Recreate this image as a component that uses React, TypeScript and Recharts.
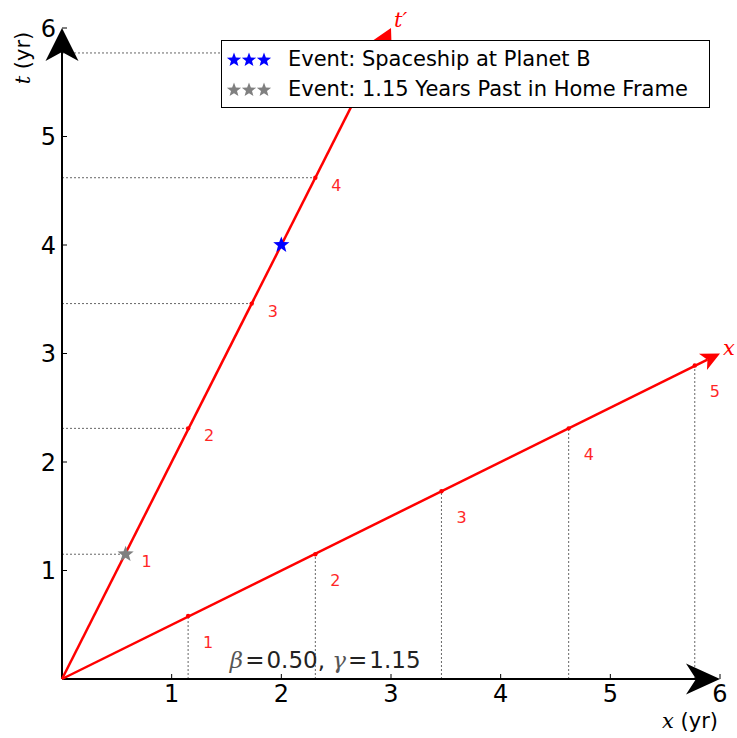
import React from 'react';
import { ScatterChart, XAxis, YAxis, Scatter, ReferenceLine, ReferenceDot, Legend } from 'recharts';

// home frame axes
const xTicks = [1, 2, 3, 4, 5, 6];
const tTicks = [1, 2, 3, 4, 5, 6];
const axisMax = 6;

// moving frame axes end points (t' and x')
const tPrimeEnd = { x: 3, y: 6 };
const xPrimeEnd = { x: 6, y: 3 };

// unit marks along t' and x'
const unitLabels = ['1', '2', '3', '4', '5'];
const tPrimeX = [0.58, 1.15, 1.73, 2.31, 2.89];
const tPrimeT = [1.15, 2.31, 3.46, 4.62, 5.77];
const xPrimeX = [1.15, 2.31, 3.46, 4.62, 5.77];
const xPrimeT = [0.58, 1.15, 1.73, 2.31, 2.89];

// events
const eventNames = ['Event: Spaceship at Planet B', 'Event: 1.15 Years Past in Home Frame'];
const eventX = [2, 0.58];
const eventT = [4, 1.15];
const eventColors = ['#0000ff', '#808080'];

const FONT = '"DejaVu Sans", sans-serif';
const SERIF = '"DejaVu Serif", serif';
const RED = '#ff0000';

const tPrimeMarks = unitLabels.map((label, i) => ({ x: tPrimeX[i], y: tPrimeT[i], label }));
const xPrimeMarks = unitLabels.map((label, i) => ({ x: xPrimeX[i], y: xPrimeT[i], label }));
const events = eventNames.map((name, i) => ({ name, x: eventX[i], y: eventT[i], color: eventColors[i] }));

const starPath = (cx: number, cy: number, R: number) => {
  const r = R * 0.42;
  let d = '';
  for (let i = 0; i < 10; i++) {
    const rad = i % 2 === 0 ? R : r;
    const a = -Math.PI / 2 + (i * Math.PI) / 5;
    d += (i === 0 ? 'M' : 'L') + (cx + rad * Math.cos(a)).toFixed(2) + ',' + (cy + rad * Math.sin(a)).toFixed(2);
  }
  return d + 'Z';
};

const arrowShape = (color: string, lw: number, len: number, half: number, notch: number) => (props: any) => {
  const { x1, y1, x2, y2 } = props;
  const dx = x2 - x1;
  const dy = y2 - y1;
  const L = Math.hypot(dx, dy) || 1;
  const ux = dx / L, uy = dy / L, nx = -uy, ny = ux;
  const bx = x2 - ux * len, by = y2 - uy * len;
  const mx = bx + ux * notch, my = by + uy * notch;
  return (
    <g>
      <line x1={x1} y1={y1} x2={mx} y2={my} stroke={color} strokeWidth={lw} />
      <path
        d={`M${x2},${y2}L${bx + nx * half},${by + ny * half}L${mx},${my}L${bx - nx * half},${by - ny * half}Z`}
        fill={color}
      />
    </g>
  );
};

const XTick = (props: any) => {
  const { x, y, payload } = props;
  return (
    <g>
      <line x1={x} x2={x} y1={y} y2={y - 5} stroke="#000" strokeWidth={1} />
      <text x={x} y={y + 22.5} textAnchor="middle" fontSize={24} fontFamily={FONT} fill="#000">
        {payload.value}
      </text>
    </g>
  );
};

const YTick = (props: any) => {
  const { x, y, payload } = props;
  return (
    <g>
      <line x1={x} x2={x + 5} y1={y} y2={y} stroke="#000" strokeWidth={1} />
      <text x={x - 6} y={y + 8.5} textAnchor="end" fontSize={24} fontFamily={FONT} fill="#000">
        {payload.value}
      </text>
    </g>
  );
};

const markShape = (dx: number, dy: number) => (props: any) => {
  const { cx, cy, payload } = props;
  return (
    <g>
      <circle cx={cx} cy={cy} r={2.2} fill={RED} />
      <text x={cx + dx} y={cy + dy} fontSize={16} fontFamily={FONT} fill={RED} opacity={0.85}>
        {payload.label}
      </text>
    </g>
  );
};

const StarShape = (props: any) => {
  const { cx, cy, payload } = props;
  return <path d={starPath(cx, cy, 8.5)} fill={payload.color} />;
};

const renderLegend = () => (
  <div
    style={{
      border: '1px solid #000',
      background: '#fff',
      width: 487,
      height: 66,
      boxSizing: 'content-box',
      fontFamily: FONT,
      fontSize: 21,
      color: '#000',
    }}
  >
    {events.map((e, i) => (
      <div key={e.name} style={{ display: 'flex', alignItems: 'center', height: 30, marginTop: i === 0 ? 3 : 0 }}>
        <svg width={60} height={30} style={{ flex: 'none' }}>
          {[12, 27, 42].map((sx) => (
            <path key={sx} d={starPath(sx, 16, 7.5)} fill={e.color} />
          ))}
        </svg>
        <span style={{ marginLeft: 6, whiteSpace: 'nowrap' }}>{e.name}</span>
      </div>
    ))}
  </div>
);

export default function App() {
  return (
    <div style={{ position: 'absolute', left: 0, top: 0, width: 737, height: 738, background: '#fff' }}>
      <ScatterChart width={737} height={738} margin={{ top: 28, right: 17, bottom: 0, left: 0 }}>
        <XAxis
          type="number"
          dataKey="x"
          domain={[0, axisMax]}
          ticks={xTicks}
          allowDataOverflow
          axisLine={false}
          tickLine={false}
          tickSize={0}
          tickMargin={0}
          height={59}
          tick={<XTick />}
          label={{
            content: (p: any) => {
              const vb = p.viewBox;
              return (
                <text x={vb.x + vb.width - 2} y={vb.y + 49} textAnchor="end" fontSize={21} fontFamily={FONT} fill="#000">
                  <tspan fontFamily={SERIF} fontStyle="italic">x</tspan> (yr)
                </text>
              );
            },
          }}
        />
        <YAxis
          type="number"
          dataKey="y"
          domain={[0, axisMax]}
          ticks={tTicks}
          allowDataOverflow
          axisLine={false}
          tickLine={false}
          tickSize={0}
          tickMargin={0}
          width={62}
          tick={<YTick />}
          label={{
            content: (p: any) => {
              const vb = p.viewBox;
              const lx = vb.x + 30;
              const ly = vb.y + 30;
              return (
                <text
                  x={lx}
                  y={ly}
                  transform={`rotate(-90 ${lx} ${ly})`}
                  textAnchor="middle"
                  fontSize={21}
                  fontFamily={FONT}
                  fill="#000"
                >
                  <tspan fontFamily={SERIF} fontStyle="italic">t</tspan> (yr)
                </text>
              );
            },
          }}
        />

        {/* dotted projections */}
        {tPrimeMarks.map((m) => (
          <ReferenceLine
            key={'h' + m.label}
            segment={[{ x: 0, y: m.y }, { x: m.x, y: m.y }]}
            stroke="#666"
            strokeWidth={1}
            strokeDasharray="2 2"
            ifOverflow="visible"
          />
        ))}
        {xPrimeMarks.map((m) => (
          <ReferenceLine
            key={'v' + m.label}
            segment={[{ x: m.x, y: 0 }, { x: m.x, y: m.y }]}
            stroke="#666"
            strokeWidth={1}
            strokeDasharray="2 2"
            ifOverflow="visible"
          />
        ))}

        {/* home axes */}
        <ReferenceLine segment={[{ x: 0, y: 0 }, { x: axisMax, y: 0 }]} ifOverflow="visible" shape={arrowShape('#000', 2, 34, 15.5, 10)} />
        <ReferenceLine segment={[{ x: 0, y: 0 }, { x: 0, y: axisMax }]} ifOverflow="visible" shape={arrowShape('#000', 2, 33, 16.5, 9)} />

        {/* moving axes */}
        <ReferenceLine segment={[{ x: 0, y: 0 }, tPrimeEnd]} ifOverflow="visible" shape={arrowShape(RED, 2.5, 22, 12, 5)} />
        <ReferenceLine segment={[{ x: 0, y: 0 }, xPrimeEnd]} ifOverflow="visible" shape={arrowShape(RED, 2.5, 19, 9, 5)} />

        <ReferenceDot
          x={tPrimeEnd.x}
          y={tPrimeEnd.y}
          r={0}
          ifOverflow="visible"
          shape={(p: any) => (
            <text x={p.cx + 3} y={p.cy - 1} fontSize={21} fontFamily={SERIF} fontStyle="italic" fill={RED}>
              t′
            </text>
          )}
        />
        <ReferenceDot
          x={xPrimeEnd.x}
          y={xPrimeEnd.y}
          r={0}
          ifOverflow="visible"
          shape={(p: any) => (
            <text x={p.cx + 3} y={p.cy + 1} fontSize={21} fontFamily={SERIF} fontStyle="italic" fill={RED}>
              x
            </text>
          )}
        />
        <ReferenceDot
          x={2.4}
          y={0.1}
          r={0}
          ifOverflow="visible"
          shape={(p: any) => (
            <text x={p.cx} y={p.cy} textAnchor="middle" fontSize={23} fontFamily={FONT} fill="#222">
              <tspan fontFamily={SERIF} fontStyle="italic" fill="#555">β</tspan>
              <tspan dx={2}>=</tspan>
              <tspan dx={2}>0.50, </tspan>
              <tspan fontFamily={SERIF} fontStyle="italic" fill="#555">γ</tspan>
              <tspan dx={2}>=</tspan>
              <tspan dx={2}>1.15</tspan>
            </text>
          )}
        />

        <Scatter data={tPrimeMarks} shape={markShape(16, 13)} isAnimationActive={false} />
        <Scatter data={xPrimeMarks} shape={markShape(15, 32)} isAnimationActive={false} />
        <Scatter data={events} shape={<StarShape />} isAnimationActive={false} />

        <Legend
          verticalAlign="middle"
          align="center"
          layout="horizontal"
          content={renderLegend}
          wrapperStyle={{ left: 221, top: 40, width: 489, height: 68 }}
        />
      </ScatterChart>
    </div>
  );
}
